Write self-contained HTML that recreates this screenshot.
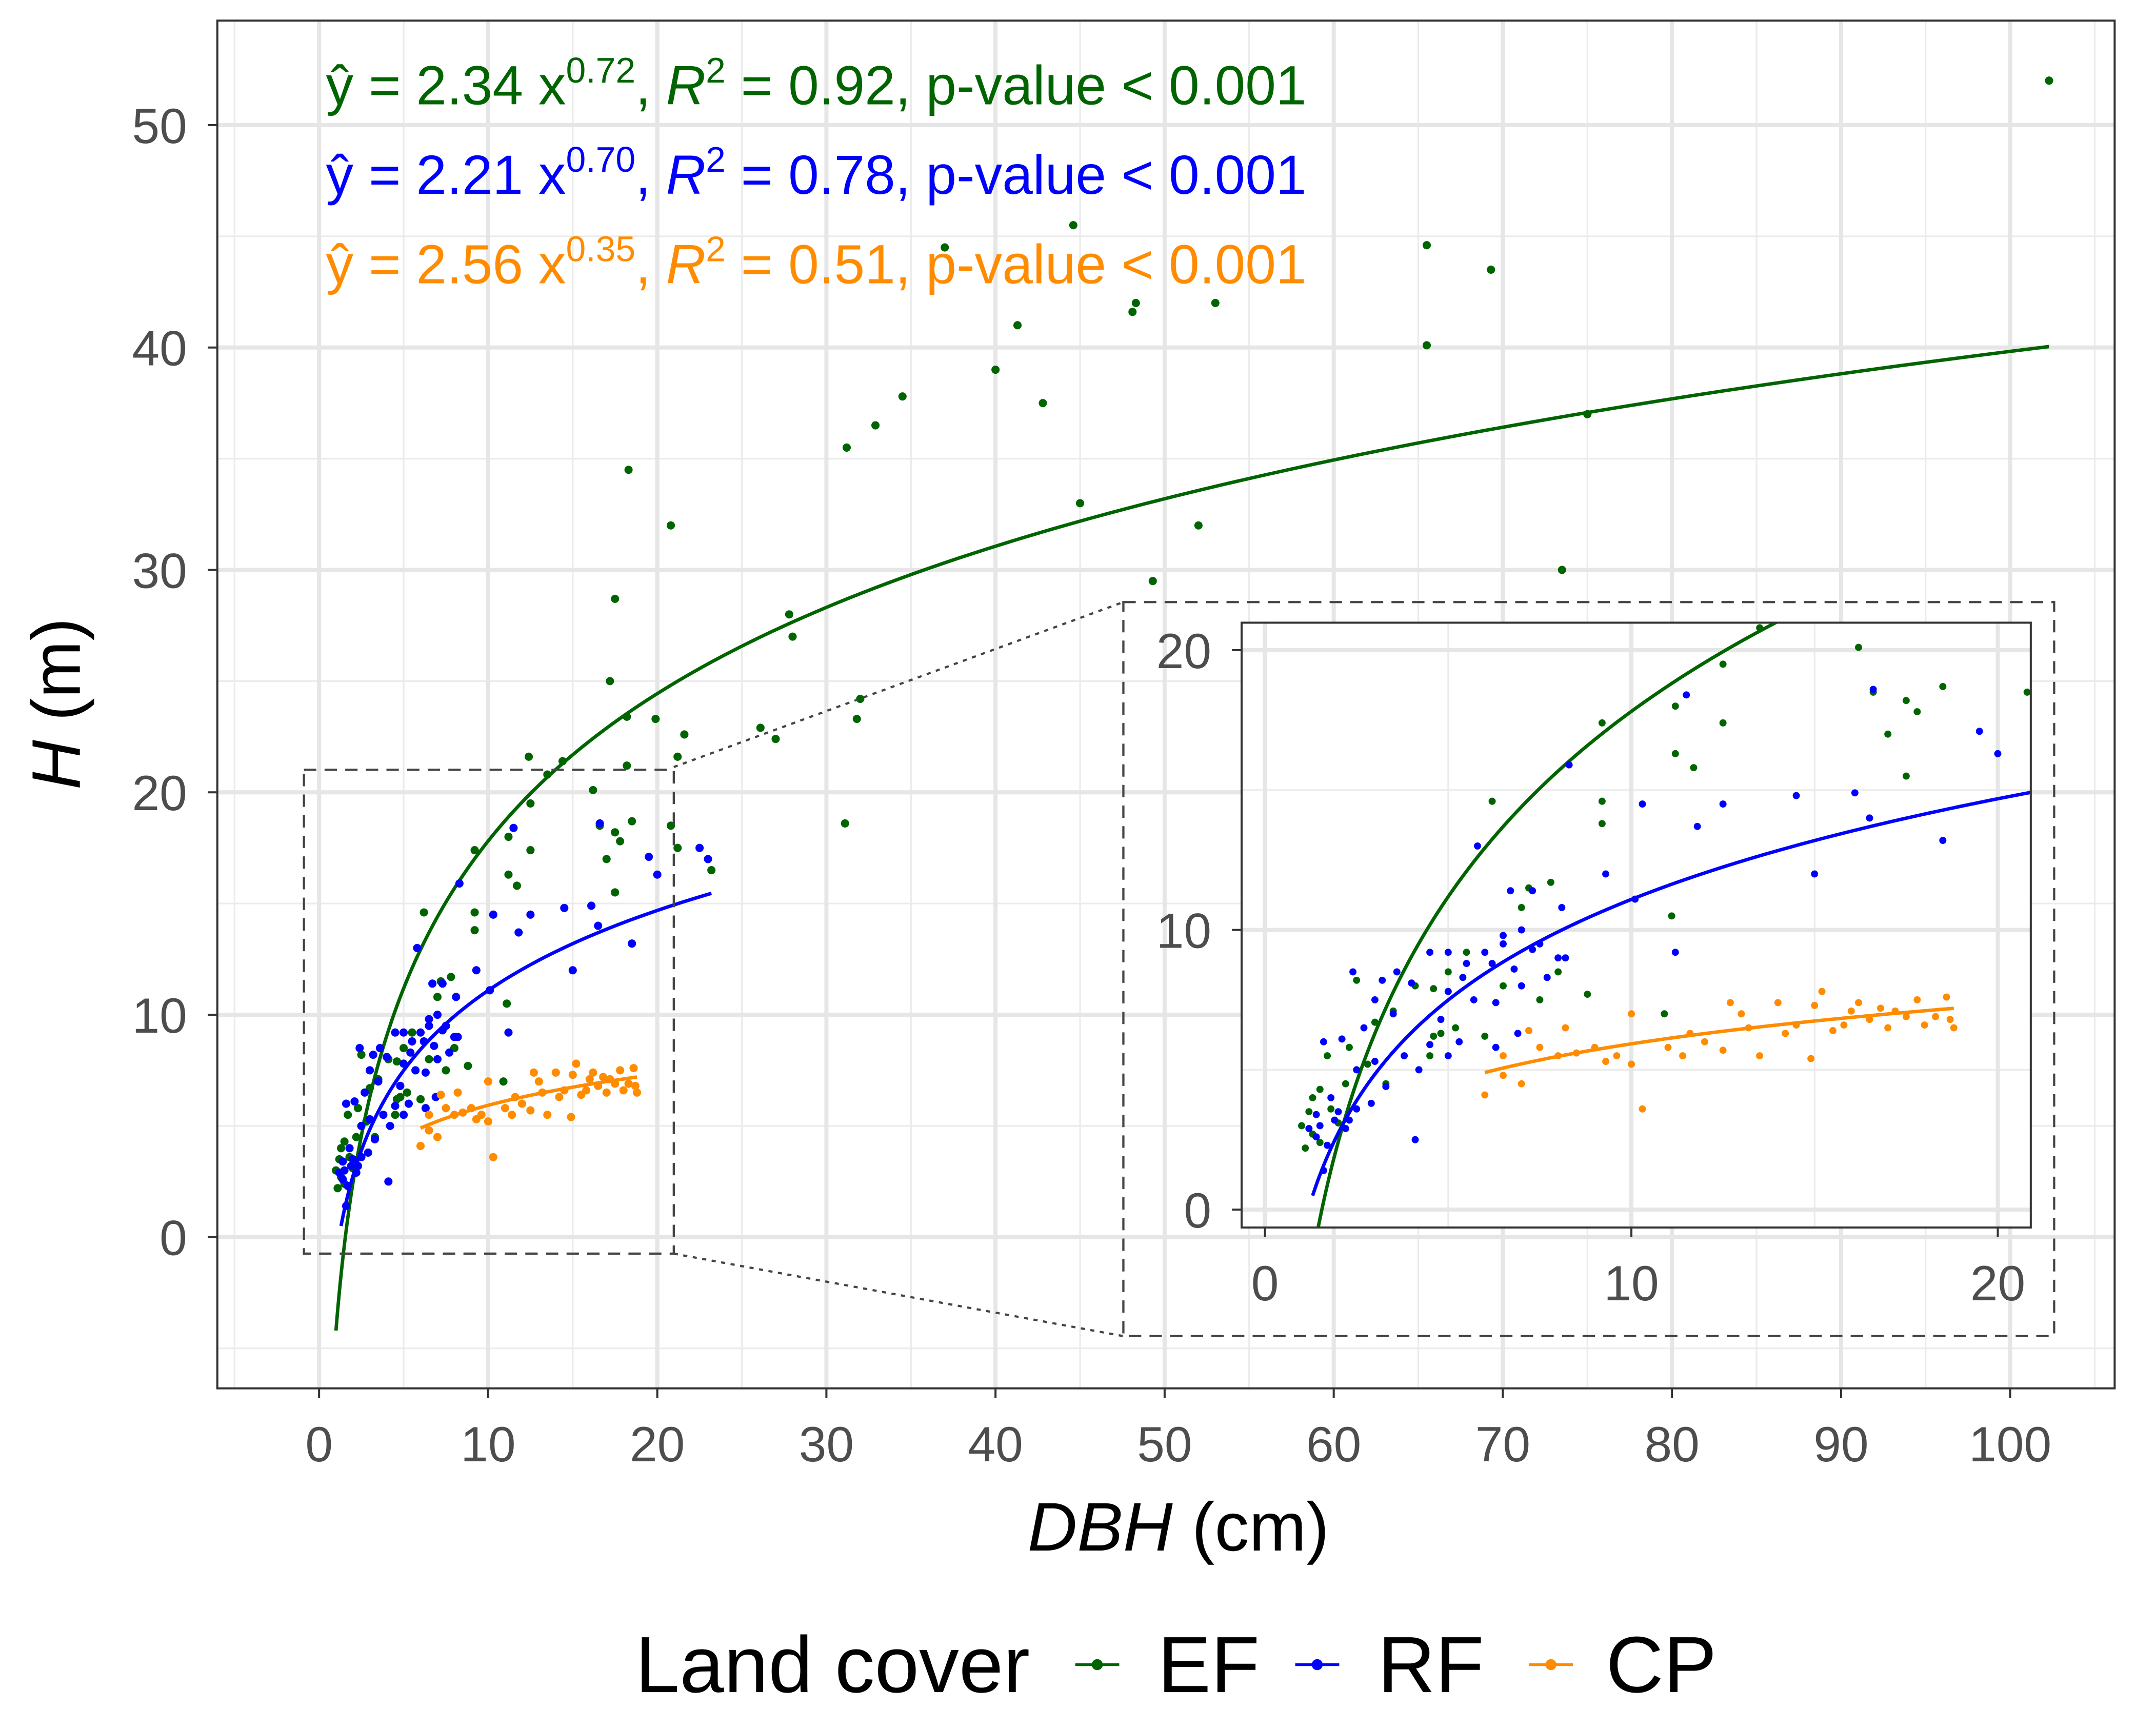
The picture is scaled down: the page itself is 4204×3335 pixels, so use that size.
<!DOCTYPE html>
<html><head><meta charset="utf-8"><style>
html,body{margin:0;padding:0;background:#fff}
svg{display:block;font-family:"Liberation Sans",Arial,sans-serif}
</style></head><body>
<svg id="chart" width="4204" height="3335" viewBox="0 0 1568 1244" xmlns="http://www.w3.org/2000/svg">
<defs>
<clipPath id="mainclip"><rect x="158" y="15" width="1380" height="995"/></clipPath>
<clipPath id="insetclip"><rect x="903" y="453" width="574" height="440"/></clipPath>
</defs>
<rect x="0" y="0" width="1568" height="1244" fill="#fff"/>
<g id="main-grid"></g>
<g id="main-marks" clip-path="url(#mainclip)"></g>
<rect x="158" y="15" width="1380" height="995" fill="none" stroke="#333" stroke-width="1.5"/>
<g id="main-axes"></g>
<g fill="none" stroke="#444" stroke-width="1.6">
<rect x="221" y="560" width="269" height="352" stroke-dasharray="9,6"/>
<line x1="490" y1="558" x2="817" y2="438" stroke-dasharray="3,4"/>
<line x1="490" y1="912" x2="817" y2="972" stroke-dasharray="3,4"/>
<rect x="817" y="438" width="677" height="534" stroke-dasharray="9,6"/>
</g>
<rect x="903" y="453" width="574" height="440" fill="#fff"/>
<g id="inset-grid"></g>
<g id="inset-marks" clip-path="url(#insetclip)"></g>
<rect x="903" y="453" width="574" height="440" fill="none" stroke="#333" stroke-width="1.5"/>
<g id="inset-axes"></g>
<g font-size="40">
<text x="237" y="76" fill="#006400">ŷ = 2.34 x<tspan font-size="26" dy="-16">0.72</tspan><tspan dy="16">, </tspan><tspan font-style="italic">R</tspan><tspan font-size="26" dy="-16">2</tspan><tspan dy="16"> = 0.92, p-value &lt; 0.001</tspan></text>
<text x="237" y="141" fill="#0000ff">ŷ = 2.21 x<tspan font-size="26" dy="-16">0.70</tspan><tspan dy="16">, </tspan><tspan font-style="italic">R</tspan><tspan font-size="26" dy="-16">2</tspan><tspan dy="16"> = 0.78, p-value &lt; 0.001</tspan></text>
<text x="237" y="206" fill="#ff8c00">ŷ = 2.56 x<tspan font-size="26" dy="-16">0.35</tspan><tspan dy="16">, </tspan><tspan font-style="italic">R</tspan><tspan font-size="26" dy="-16">2</tspan><tspan dy="16"> = 0.51, p-value &lt; 0.001</tspan></text>
</g>
<text x="857" y="1128" font-size="50" text-anchor="middle" fill="#000"><tspan font-style="italic">DBH</tspan> (cm)</text>
<text transform="translate(58,512) rotate(-90)" font-size="50" text-anchor="middle" fill="#000"><tspan font-style="italic">H</tspan> (m)</text>
<g font-size="58" fill="#000">
<text x="462" y="1231">Land cover</text>
<g><line x1="782" y1="1211" x2="814" y2="1211" stroke="#006400" stroke-width="2"/><circle cx="798" cy="1211" r="4" fill="#006400"/><text x="842" y="1231">EF</text></g>
<g><line x1="942" y1="1211" x2="974" y2="1211" stroke="#0000ff" stroke-width="2"/><circle cx="958" cy="1211" r="4" fill="#0000ff"/><text x="1002" y="1231">RF</text></g>
<g><line x1="1112" y1="1211" x2="1144" y2="1211" stroke="#ff8c00" stroke-width="2"/><circle cx="1128" cy="1211" r="4" fill="#ff8c00"/><text x="1168" y="1231">CP</text></g>
</g>
</svg>
<script>
const efX=[102.3,44.6,65.5,69.3,37,65.5,41.3,40,48.3,48.1,53,42.8,34.5,32.9,31.2,75,45,52,49.3,73.5,18.3,20.8,17.5,27.8,28,17.2,18.2,19.9,21.6,26.1,27,32,31.8,31.1,21.2,18.2,12.4,14.4,13.5,16.2,17.5,16.6,18.5,21.2,17.8,11.2,12.5,9.2,17,12.5,11.2,11.7,17.5,9.2,6.2,9.2,7.8,7.2,11.1,7,5.5,8.8,10.9,5,4.6,4.1,3.5,3,4.6,5.2,4.8,2.5,2.3,2.8,3.3,1.7,1.5,1.3,1.2,1,1.3,1.1,1.5,2,1.8,2.2,4.5,6,7.5,8,6.5,23.2,20.8];
const efY=[52,45.5,44.6,43.5,44.5,40.1,41,39,42,41.6,42,37.5,37.8,36.5,35.5,37,33,32,29.5,30,34.5,32,28.7,28,27,25,23.4,23.3,22.6,22.9,22.4,24.2,23.3,18.6,21.6,21.2,21.6,21.4,20.8,20.1,18.2,18.5,18.7,17.5,17.8,18,17.4,17.4,17,19.5,16.3,15.8,15.5,14.6,14.6,13.8,11.7,11.5,10.5,10.8,9.2,7.7,7.0,8.5,7.9,8,7.1,6.7,6.2,6.5,6.3,8.2,5.8,5.2,4.5,5.5,4.3,4,3.5,3,2.7,2.2,2.4,3.1,3.6,4.5,5.5,6.2,7.5,8.5,8,16.5,18.5];
const rfX=[22.5,23,19.5,20,16.6,14.5,15,16.1,16.5,18.5,11.5,12.5,10.3,8.3,11.2,11.8,10.1,9.3,5.8,6.7,7.3,8.1,4.5,5,6,6.5,7,7.5,8,6.2,6.8,7.7,5.4,5.7,5.3,4.8,4,3.6,3.2,2.4,3,3.5,2.7,2.1,1.6,4.1,2.9,4.2,2.5,3,3.3,1.8,2,2.3,1.5,1.4,1.7,1.6,1.9,2.2,2.5,1.2,1.4,7,7.3,8.2,6.5,5.5,6.3,5,3.8,4.5,5,6.3,6.9];
const rfY=[17.5,17,17.1,16.3,18.6,14.8,12,14.9,14,13.2,18.4,14.5,14.5,15.9,9.2,13.7,11.1,12,13,11.4,11.4,10.8,9.2,9.2,9.2,9.5,10,9.5,9,8.8,8.6,8.3,8.3,7.5,6,6.8,8.1,8.5,8.2,8.5,7.5,7,6.5,6.1,6,2.5,3.8,5,5,5.3,4.4,4,3.5,3.2,3,2.6,2.3,1.4,3.2,2.9,3.6,2.9,3.4,8,9.3,9,9.8,8.8,7.4,7.8,5.5,5.9,5.5,5.8,6.3];
const cpX=[6,6.5,6.5,7,7.2,7.5,8,8.5,9,9.3,9.6,10,10.3,10,11,11.4,11.6,12,12.5,13,13.2,13.5,14,14.2,14.5,15,15.2,15.5,15.8,16,16.2,16.5,17,17.2,17.5,17.8,18,18.3,18.6,18.7,18.8,14.9,12.7,8.2,16.8];
const cpY=[4.1,4.8,5.5,4.5,6.4,5.8,5.5,5.6,5.8,5.3,5.5,5.2,3.6,7,5.8,5.5,6.3,6,5.7,7,6.5,5.5,7.4,6.3,6.6,7.3,7.8,6.4,6.6,7.1,7.4,6.8,6.5,7.1,6.9,7.5,6.6,6.9,7.6,6.8,6.5,5.4,7.4,6.5,7.2];
const fitA=[-4.2,-0.86,1.3];
const fitB=[9.56,5.19,2.01];
const fitRange=[[1.0,102.3],[1.3,23.2],[6,18.8]];
const colors=['#006400','#0000ff','#ff8c00'];
const names=['ef','rf','cp'];
const series=[[efX,efY],[rfX,rfY],[cpX,cpY]];
const mainXTicks=[0,10,20,30,40,50,60,70,80,90,100];
const mainYTicks=[0,10,20,30,40,50];
const insetTicks=[0,10,20];

const NS='http://www.w3.org/2000/svg';
function mk(tag,attrs,parent){const e=document.createElementNS(NS,tag);for(const k in attrs)e.setAttribute(k,attrs[k]);parent.appendChild(e);return e;}
const mx=v=>232+v*12.3, my=v=>900-v*16.18;
const ix=v=>920+v*26.65, iy=v=>880-v*20.35;

function grid(g,xs,ys,minX,minY,sx,sy,x0,x1,y0,y1){
  minX.forEach(v=>mk('line',{x1:sx(v),x2:sx(v),y1:y0,y2:y1,stroke:'#ebebeb','stroke-width':1.2},g));
  minY.forEach(v=>mk('line',{x1:x0,x2:x1,y1:sy(v),y2:sy(v),stroke:'#ebebeb','stroke-width':1.2},g));
  xs.forEach(v=>mk('line',{x1:sx(v),x2:sx(v),y1:y0,y2:y1,stroke:'#e6e6e6','stroke-width':3},g));
  ys.forEach(v=>mk('line',{x1:x0,x2:x1,y1:sy(v),y2:sy(v),stroke:'#e6e6e6','stroke-width':3},g));
}
grid(document.getElementById('main-grid'),mainXTicks,mainYTicks,mainXTicks.map(v=>v+5).concat([-5]),[-5,5,15,25,35,45],mx,my,158,1538,15,1010);
grid(document.getElementById('inset-grid'),insetTicks,insetTicks,[5,15],[5,15],ix,iy,903,1477,453,893);

function marks(g,sx,sy,r){
  series.forEach((s,k)=>{
    const [a,b]=fitRange[k];let d='';
    for(let i=0;i<=200;i++){const x=a*Math.pow(b/a,i/200);const y=fitA[k]+fitB[k]*Math.log(x);d+=(i?'L':'M')+sx(x).toFixed(2)+','+sy(y).toFixed(2);}
    const p=mk('path',{d:d,fill:'none',stroke:colors[k],'stroke-width':2.5},g);
    
    
  });
  series.forEach((s,k)=>{
    s[0].forEach((x,i)=>{
      const c=mk('circle',{cx:sx(x),cy:sy(s[1][i]),r:r,fill:colors[k]},g);
      
      
    });
  });
}
marks(document.getElementById('main-marks'),mx,my,3);
marks(document.getElementById('inset-marks'),ix,iy,2.6);

function axes(g,xt,yt,sx,sy,xb,yl,fs){
  xt.forEach(v=>{mk('line',{x1:sx(v),x2:sx(v),y1:xb,y2:xb+7,stroke:'#333','stroke-width':1.5},g);
    const t=mk('text',{x:sx(v),y:xb+53,'font-size':fs,'text-anchor':'middle',fill:'#4d4d4d'},g);t.textContent=v;
    
    });
  yt.forEach(v=>{mk('line',{x1:yl-7,x2:yl,y1:sy(v),y2:sy(v),stroke:'#333','stroke-width':1.5},g);
    const t=mk('text',{x:yl-22,y:sy(v)+13,'font-size':fs,'text-anchor':'end',fill:'#4d4d4d'},g);t.textContent=v;
    
    });
}
axes(document.getElementById('main-axes'),mainXTicks,mainYTicks,mx,my,1010,158,36);
axes(document.getElementById('inset-axes'),insetTicks,insetTicks,ix,iy,893,903,36);
</script>
</body></html>
